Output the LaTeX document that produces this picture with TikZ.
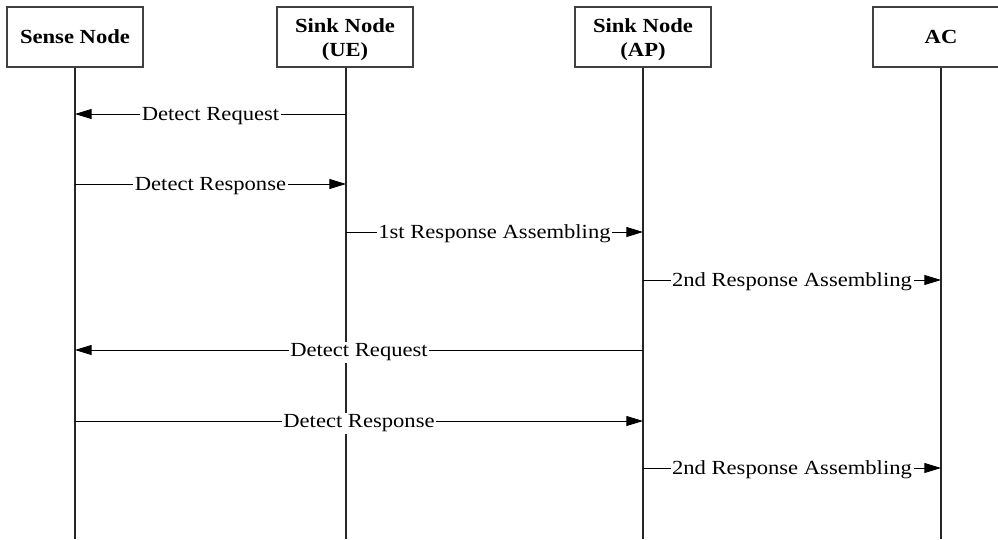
\documentclass[tikz,border=0pt]{standalone}
\usepackage{fontspec}
\setmainfont[FakeStretch=1.13]{Liberation Serif}
\usetikzlibrary{arrows.meta}
\begin{document}
\begin{tikzpicture}[x=0.75pt,y=-0.75pt,
  actor/.style={draw=black!75, line width=0.8pt, minimum width=102pt,
    minimum height=45pt, align=center, inner sep=0pt,
    font=\bfseries\fontsize{15}{18}\selectfont},
  actortext/.style={align=center, inner sep=0pt, yshift=-1.8pt,
    font=\bfseries\fontsize{15}{18}\selectfont},
  lifeline/.style={draw=black!85, line width=0.9pt},
  msg/.style={draw=black, line width=0.7pt, -{Triangle[length=12.5pt,width=7.5pt]}},
  lbl/.style={fill=white, inner sep=1.2pt, anchor=base, yshift=-5pt,
    font=\fontsize{15}{18}\selectfont}]
\useasboundingbox (0,0) rectangle (998,539);

% participants
\node[actor] (sn) at (75,37)  {Sense Node};
\node[actor, label={[actortext]center:Sink Node\\(UE)}] (ue) at (345,37) {};
\node[actor, label={[actortext]center:Sink Node\\(AP)}] (ap) at (643,37) {};
\node[actor] (ac) at (941,37) {AC};

% lifelines
\coordinate (snEnd) at (75,539);
\coordinate (ueEnd) at (346,539);
\coordinate (apEnd) at (643,539);
\coordinate (acEnd) at (941,539);
\draw[lifeline] (sn) -- (snEnd);
\draw[lifeline] (ue.south -| ueEnd) -- (ueEnd);
\draw[lifeline] (ap) -- (apEnd);
\draw[lifeline] (ac) -- (acEnd);

% message anchor points on the lifelines
\coordinate (sn1) at (75,114);  \coordinate (ue1) at (346,114);
\coordinate (sn2) at (75,184);  \coordinate (ue2) at (346,184);
\coordinate (ue3) at (346,232); \coordinate (ap3) at (643,232);
\coordinate (ap4) at (643,280); \coordinate (ac4) at (941,280);
\coordinate (sn5) at (75,350);  \coordinate (ap5) at (643,350);
\coordinate (sn6) at (75,421);  \coordinate (ap6) at (643,421);
\coordinate (ap7) at (643,468); \coordinate (ac7) at (941,468);

% messages
\draw[msg] (ue1) -- node[lbl] {Detect Request} (sn1);
\draw[msg] (sn2) -- node[lbl] {Detect Response} (ue2);
\draw[msg] (ue3) -- node[lbl] {1st Response Assembling} (ap3);
\draw[msg] (ap4) -- node[lbl] {2nd Response Assembling} (ac4);
\draw[msg] (ap5) -- node[lbl] {Detect Request} (sn5);
\draw[msg] (sn6) -- node[lbl] {Detect Response} (ap6);
\draw[msg] (ap7) -- node[lbl] {2nd Response Assembling} (ac7);
\end{tikzpicture}
\end{document}
